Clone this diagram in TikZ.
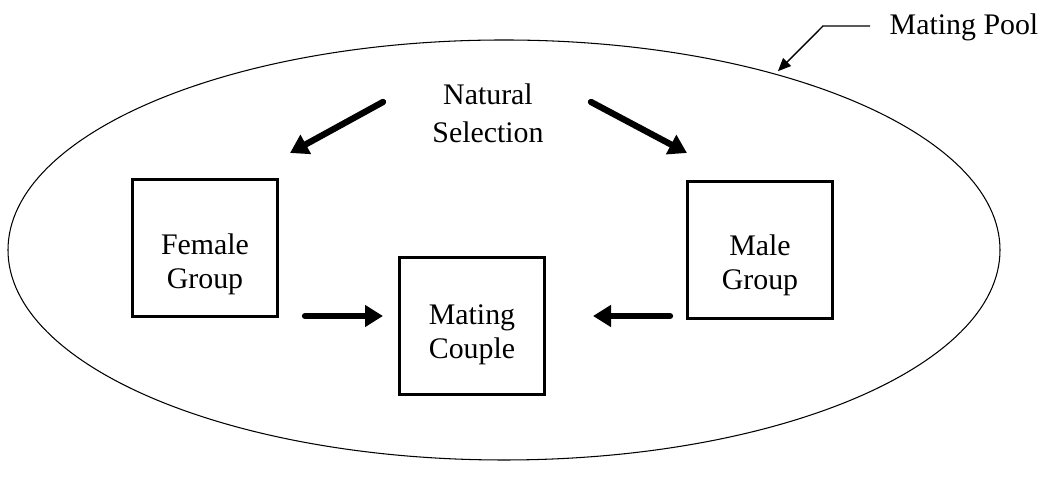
\documentclass[tikz,border=0pt]{standalone}
\usepackage{fontspec}
\setmainfont{Liberation Serif}
\usetikzlibrary{arrows.meta, shapes}

\begin{document}
\begin{tikzpicture}[font=\fontsize{17}{21.5}\selectfont]
\useasboundingbox (0,0) rectangle (21,9.68);
%\tikzstyle{grp}=[draw,line width=1.2pt,minimum width=2.9cm,minimum height=2.74cm]
\tikzset{grp/.style={draw,line width=1.3pt,minimum width=2.9cm,minimum height=2.74cm},
         txt/.style={align=center,font=\fontsize{17}{19.5}\selectfont},
         fat/.style={line width=3.6pt,line cap=round,-{Triangle[length=0.36cm,width=0.42cm]}}}

    % the pool
    \node[draw,ellipse,line width=0.6pt,inner sep=0pt,minimum width=19.84cm,minimum height=8.4cm] (pool) at (10.08,4.68) {};
    \node (lbl) at (19.28,9.14) {Mating Pool};

    \node[align=center] (ns) at (9.76,7.42) {Natural\\Selection};
    \node[grp] (f) at (4.1,4.72) {};
    \node[grp] (m) at (15.2,4.68) {};
    \node[grp] (c) at (9.44,3.16) {};
    \node[txt] (ft) at ([yshift=-0.32cm]f) {Female\\Group};
    \node[txt] (mt) at ([yshift=-0.3cm]m) {Male\\Group};
    \node[txt] (ct) at ([yshift=-0.18cm]c) {Mating\\Couple};

    \coordinate (n1) at (7.66,7.64);
    \coordinate (n2) at (5.8,6.62);
    \coordinate (n3) at (11.82,7.64);
    \coordinate (n4) at (13.74,6.62);
    \coordinate (h1) at (6.1,3.36);
    \coordinate (h2) at (7.66,3.36);
    \coordinate (h3) at (13.4,3.36);
    \coordinate (h4) at (11.86,3.36);
    \coordinate (p0) at (17.4,9.16);
    \coordinate (p1) at (16.46,9.16);

    \draw[fat] (n1) -- (n2);
    \draw[fat] (n3) -- (n4);
    \draw[fat] (h1) -- (h2);
    \draw[fat] (h3) -- (h4);
    \draw[line width=0.8pt,shorten >=2pt,-{Triangle[length=0.26cm,width=0.22cm]}] (p0) -- (p1) -- (pool.33);
\end{tikzpicture}
\end{document}
